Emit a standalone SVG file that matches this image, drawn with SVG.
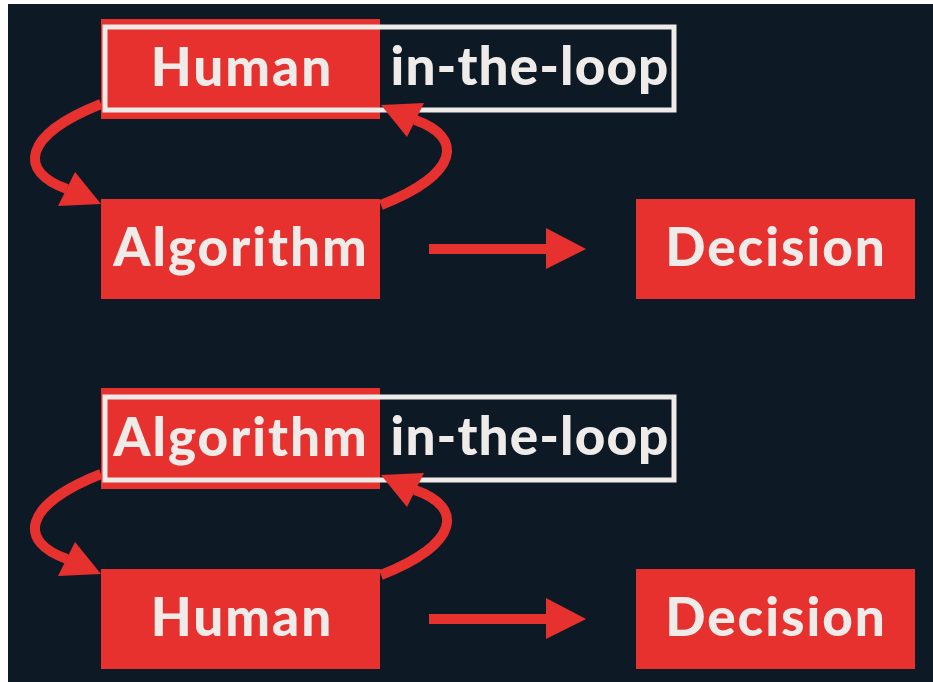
<svg xmlns="http://www.w3.org/2000/svg" width="933" height="682" viewBox="0 0 933 682">
  <style>
    .box { fill: #E6312F; }
    .lbl { font-family: Lato, "Open Sans", "Liberation Sans", sans-serif; font-weight: 900; font-size: 53px; letter-spacing: 2px; fill: #EEEBE9; text-anchor: middle; }
    .tight { letter-spacing: 1.1px; }
    .frame { fill: none; stroke: #EEEBE9; stroke-width: 5; }
    .arc { fill: none; stroke: #E6312F; stroke-width: 10; }
    .head { fill: #E6312F; }
    .line { stroke: #E6312F; stroke-width: 10; }
  </style>
  <rect x="0" y="0" width="933" height="682" fill="#FFFFFF"/>
  <rect x="8" y="4" width="925" height="678" fill="#0E1926"/>

  <!-- Top section -->
  <g id="connectors-top">
    <path class="arc" d="M 101,104 C 22,135 18,172 67,189"/>
    <path class="arc" d="M 381,205 C 460,174 464,137 415,120"/>
    <line class="line" x1="429" y1="249" x2="548" y2="249"/>
    <polygon class="head" points="546,228 586,249 546,269"/>
  </g>
  <g id="node-human-top">
    <rect class="box" x="101" y="19" width="279" height="100"/>
    <text class="lbl" x="242" y="86">Human</text>
  </g>
  <g id="node-frame-top">
    <rect class="frame" x="105" y="27" width="569" height="83"/>
    <text class="lbl tight" x="530" y="85">in-the-loop</text>
  </g>
  <g id="node-algorithm-top">
    <rect class="box" x="101" y="199" width="279" height="100"/>
    <text class="lbl" x="241" y="266">Algorithm</text>
  </g>
  <g id="node-decision-top">
    <rect class="box" x="636" y="199" width="279" height="100"/>
    <text class="lbl" x="776" y="266">Decision</text>
  </g>
  <g id="arrowheads-top">
    <polygon class="head" points="58,206 75,172 101,204"/>
    <polygon class="head" points="424,103 407,137 381,105"/>
  </g>

  <!-- Bottom section -->
  <g id="connectors-bottom">
    <path class="arc" d="M 101,474 C 22,505 18,542 67,559"/>
    <path class="arc" d="M 381,575 C 460,544 464,507 415,490"/>
    <line class="line" x1="429" y1="619" x2="548" y2="619"/>
    <polygon class="head" points="546,598 586,619 546,639"/>
  </g>
  <g id="node-algorithm-bottom">
    <rect class="box" x="101" y="388" width="279" height="101"/>
    <text class="lbl" x="241" y="456">Algorithm</text>
  </g>
  <g id="node-frame-bottom">
    <rect class="frame" x="105" y="397" width="569" height="83"/>
    <text class="lbl tight" x="530" y="455">in-the-loop</text>
  </g>
  <g id="node-human-bottom">
    <rect class="box" x="101" y="569" width="279" height="100"/>
    <text class="lbl" x="242" y="636">Human</text>
  </g>
  <g id="node-decision-bottom">
    <rect class="box" x="636" y="569" width="279" height="100"/>
    <text class="lbl" x="776" y="636">Decision</text>
  </g>
  <g id="arrowheads-bottom">
    <polygon class="head" points="58,576 75,542 101,574"/>
    <polygon class="head" points="424,473 407,507 381,475"/>
  </g>
</svg>
